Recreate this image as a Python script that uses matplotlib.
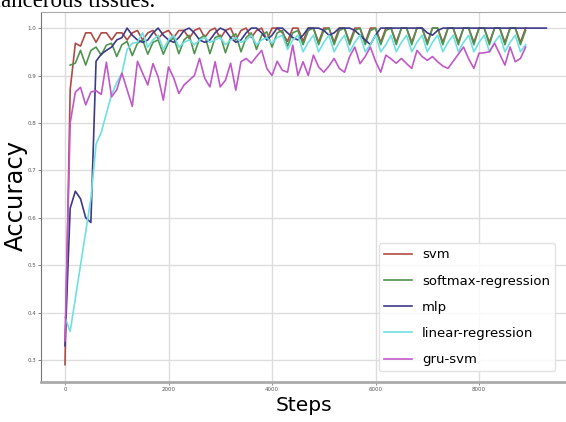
import numpy as np
import matplotlib.pyplot as plt

# training accuracy per 100 steps
steps = np.arange(0, 9000, 100)
steps_mlp = np.arange(0, 9400, 100)
steps_softmax = np.arange(100, 9000, 100)

svm = [0.29, 0.87, 0.968, 0.962, 0.99, 0.99, 0.97, 0.99, 0.99, 0.975,
       0.99, 0.99, 0.975, 0.99, 0.995, 0.975, 0.99, 0.995, 0.978, 0.99,
       0.995, 0.98, 0.995, 0.995, 0.978, 0.995, 1.0, 0.98, 0.995, 1.0,
       0.978, 0.995, 1.0, 0.975, 0.995, 1.0, 0.98, 0.995, 1.0, 0.975,
       1.0, 1.0, 0.99, 0.972, 1.0, 1.0, 0.972, 1.0, 1.0, 0.97,
       1.0, 1.0, 0.97, 1.0, 1.0, 0.97, 1.0, 1.0, 0.97, 1.0,
       1.0, 0.97, 1.0, 1.0, 0.97, 1.0, 1.0, 0.97, 1.0, 1.0,
       0.97, 1.0, 1.0, 0.97, 1.0, 1.0, 0.97, 1.0, 1.0, 0.97,
       1.0, 1.0, 0.97, 1.0, 1.0, 0.97, 1.0, 1.0, 0.97, 1.0]

softmax = [0.922, 0.926, 0.953, 0.922, 0.953, 0.96, 0.943, 0.964, 0.968,
           0.94, 0.965, 0.972, 0.942, 0.968, 0.975, 0.945, 0.97, 0.975, 0.945,
           0.97, 0.98, 0.946, 0.975, 0.985, 0.946, 0.978, 0.985, 0.946, 0.98,
           0.985, 0.948, 0.98, 0.988, 0.95, 0.98, 0.99, 0.955, 0.985, 0.992,
           0.96, 0.99, 0.995, 0.962, 0.99, 0.995, 0.965, 0.995, 1.0, 0.965,
           0.995, 1.0, 0.965, 0.995, 1.0, 0.965, 0.995, 1.0, 0.965, 0.995,
           1.0, 0.965, 0.995, 1.0, 0.965, 1.0, 1.0, 0.965, 1.0, 1.0,
           0.965, 1.0, 1.0, 0.965, 1.0, 1.0, 0.965, 1.0, 1.0, 0.965,
           1.0, 1.0, 0.965, 1.0, 1.0, 0.965, 1.0, 1.0, 0.965, 0.995]

mlp = [0.33, 0.62, 0.656, 0.64, 0.60, 0.59, 0.93, 0.945, 0.953, 0.96,
       0.975, 0.98, 1.0, 0.985, 0.975, 0.97, 0.975, 0.99, 1.0, 0.985,
       0.975, 0.97, 0.98, 0.995, 1.0, 0.99, 0.975, 0.97, 0.975, 0.99,
       1.0, 0.995, 0.98, 0.97, 0.975, 0.99, 1.0, 1.0, 0.99, 0.975,
       0.985, 1.0, 1.0, 0.99, 0.98, 0.975, 0.985, 1.0, 1.0, 1.0,
       0.995, 0.985, 0.99, 1.0, 1.0, 1.0, 0.995, 0.985, 0.975, 0.965,
       0.985, 1.0, 1.0, 1.0, 1.0, 1.0, 1.0, 1.0, 1.0, 1.0,
       0.99, 0.985, 0.995, 1.0, 1.0, 1.0, 1.0, 1.0, 1.0, 1.0,
       1.0, 1.0, 1.0, 1.0, 1.0, 1.0, 1.0, 1.0, 1.0, 1.0,
       1.0, 1.0, 1.0, 1.0]

linear = [0.39, 0.36, 0.43, 0.50, 0.57, 0.64, 0.755, 0.78, 0.82, 0.86,
          0.885, 0.905, 0.955, 0.968, 0.97, 0.99, 0.96, 0.975, 0.985, 0.955,
          0.975, 0.985, 0.96, 0.97, 0.975, 0.965, 0.975, 0.98, 0.97, 0.975,
          0.98, 0.965, 0.975, 0.98, 0.97, 0.975, 0.985, 0.965, 0.975, 0.98,
          0.968, 0.98, 0.985, 0.955, 0.975, 0.985, 0.95, 0.97, 0.985, 0.95,
          0.97, 0.985, 0.95, 0.97, 0.985, 0.95, 0.97, 0.985, 0.95, 0.965,
          0.985, 0.95, 0.965, 0.985, 0.95, 0.97, 0.985, 0.95, 0.97, 0.985,
          0.95, 0.97, 0.985, 0.95, 0.97, 0.985, 0.95, 0.97, 0.985, 0.95,
          0.97, 0.985, 0.95, 0.97, 0.985, 0.95, 0.97, 0.985, 0.95, 0.965]

gru_svm = [0.34, 0.80, 0.865, 0.875, 0.838, 0.865, 0.868, 0.86, 0.928, 0.855,
           0.87, 0.905, 0.87, 0.835, 0.93, 0.905, 0.88, 0.925, 0.897, 0.848,
           0.918, 0.895, 0.862, 0.88, 0.89, 0.90, 0.936, 0.894, 0.876, 0.929,
           0.876, 0.89, 0.926, 0.869, 0.929, 0.936, 0.926, 0.94, 0.953, 0.915,
           0.90, 0.93, 0.911, 0.907, 0.964, 0.90, 0.929, 0.90, 0.943, 0.918,
           0.907, 0.92, 0.936, 0.915, 0.907, 0.94, 0.96, 0.925, 0.94, 0.96,
           0.93, 0.907, 0.943, 0.935, 0.926, 0.936, 0.925, 0.915, 0.953, 0.94,
           0.932, 0.94, 0.929, 0.92, 0.915, 0.93, 0.945, 0.96, 0.935, 0.915,
           0.947, 0.948, 0.95, 0.968, 0.945, 0.922, 0.96, 0.929, 0.936, 0.96]

fig = plt.figure(figsize=(5.66, 4.22), dpi=100)
ax = fig.add_axes([0.0724, 0.0948, 0.9276, 0.8768])

ax.plot(steps, svm, color='#b04a44', lw=1.2, label='svm')
ax.plot(steps_softmax, softmax, color='#4f944f', lw=1.2, label='softmax-regression')
ax.plot(steps_mlp, mlp, color='#3c3a88', lw=1.2, label='mlp')
ax.plot(steps, linear, color='#6fe0e0', lw=1.2, label='linear-regression')
ax.plot(steps, gru_svm, color='#c058c8', lw=1.2, label='gru-svm')

ax.set_xlim(-464, 9680)
ax.set_ylim(0.2535, 1.034)
ax.set_xticks([0, 2000, 4000, 6000, 8000])
ax.set_yticks([0.3, 0.4, 0.5, 0.6, 0.7, 0.8, 0.9, 1.0])
ax.tick_params(labelsize=4, length=2, width=0.5, pad=1.5, colors='#555555')
ax.grid(True, color='#dddddd', lw=1)

ax.spines['right'].set_visible(False)
ax.spines['top'].set_color('#aaaaaa')
ax.spines['left'].set_color('#777777')
ax.spines['bottom'].set_color('#aaaaaa')
ax.spines['bottom'].set_linewidth(2)

ax.set_ylabel('Accuracy', fontsize=17.5)
ax.yaxis.set_label_coords(-0.026, 0.503)
ax.set_xlabel('Steps', fontsize=14.5, va='top')
ax.xaxis.set_label_coords(0.5, -0.038)

leg = ax.legend(loc='lower right', fontsize=9.5, handlelength=2.1,
                handletextpad=0.8, labelspacing=1.0, borderaxespad=0.8,
                framealpha=0.85, edgecolor='#dddddd')

fig.text(-0.016, 0.983, 'cancerous tissues.', family='Liberation Serif',
         fontsize=16.5, va='baseline', ha='left')
fig.savefig('out.png', dpi=100)
